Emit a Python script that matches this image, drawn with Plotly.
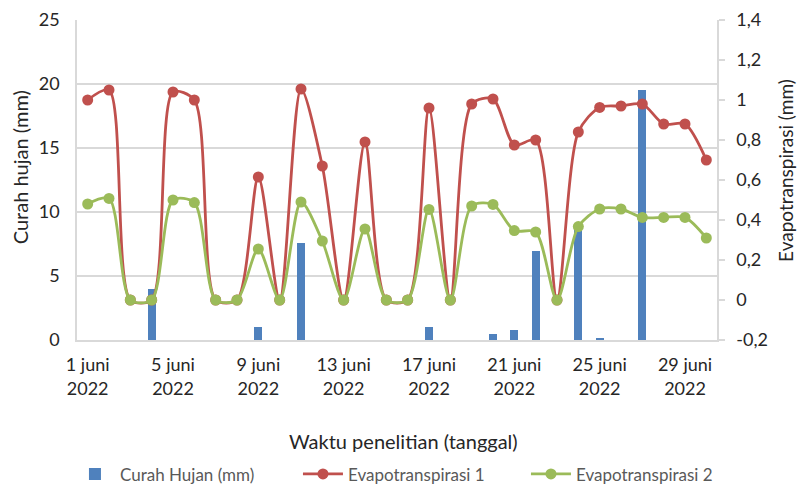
import plotly.graph_objects as go

# ── Data ───────────────────────────────────────────────────────────
days = list(range(1, 31))

curah_hujan = [0, 0, 0, 4.0, 0, 0, 0, 0, 1.05, 0,
               7.6, 0, 0, 0, 0, 0, 1.0, 0, 0, 0.45,
               0.75, 6.95, 0, 8.6, 0.08, 0, 19.5, 0, 0, 0]

evapo_1 = [1.0, 1.05, 0, 0, 1.04, 1.0, 0, 0, 0.615, 0,
           1.055, 0.67, 0, 0.79, 0, 0, 0.96, 0, 0.98, 1.005,
           0.775, 0.80, 0, 0.84, 0.963, 0.97, 0.98, 0.88, 0.88, 0.70]

evapo_2 = [0.48, 0.508, 0, 0, 0.50, 0.487, 0, 0, 0.255, 0,
           0.49, 0.295, 0, 0.355, 0, 0, 0.453, 0, 0.47, 0.478,
           0.347, 0.34, 0, 0.367, 0.455, 0.455, 0.413, 0.413, 0.413, 0.31]

x_tickvals = [1, 5, 9, 13, 17, 21, 25, 29]
x_ticktext = ["1 juni<br>2022", "5 juni<br>2022", "9 juni<br>2022", "13 juni<br>2022",
              "17 juni<br>2022", "21 juni<br>2022", "25 juni<br>2022", "29 juni<br>2022"]

y2_tickvals = [-0.2, 0, 0.2, 0.4, 0.6, 0.8, 1.0, 1.2, 1.4]
y2_ticktext = ["-0,2", "0", "0,2", "0,4", "0,6", "0,8", "1", "1,2", "1,4"]

# ── Style ──────────────────────────────────────────────────────────
BLUE = "#4F81BD"
RED = "#C0504D"
GREEN = "#9BBB59"
GRID = "#D9D9D9"
FONT = "Lato"
TXT = "#262626"

fig = go.Figure()
fig.add_trace(go.Bar(
    x=days, y=curah_hujan, name="Curah Hujan (mm)",
    marker=dict(color=BLUE, line=dict(width=0)), width=0.39, yaxis="y",
))
fig.add_trace(go.Scatter(
    x=days, y=evapo_1, name="Evapotranspirasi 1", yaxis="y2",
    mode="lines+markers", line=dict(color=RED, width=2.8, shape="spline", smoothing=0.8),
    marker=dict(color=RED, size=11),
))
fig.add_trace(go.Scatter(
    x=days, y=evapo_2, name="Evapotranspirasi 2", yaxis="y2",
    mode="lines+markers", line=dict(color=GREEN, width=2.8, shape="spline", smoothing=0.8),
    marker=dict(color=GREEN, size=11),
))

fig.update_layout(
    width=797, height=488,
    margin=dict(l=77, r=80, t=20, b=148, autoexpand=False),
    paper_bgcolor="white", plot_bgcolor="white",
    font=dict(family=FONT, size=18, color=TXT),
    bargap=0,
    xaxis=dict(
        range=[0.5, 30.5], tickvals=x_tickvals, ticktext=x_ticktext,
        showgrid=False, showline=True, linecolor=GRID, linewidth=1.5,
        ticks="", zeroline=False, ticklabelstandoff=8,
    ),
    yaxis=dict(
        range=[0, 25], dtick=5, showgrid=True, gridcolor=GRID, gridwidth=1.5,
        showline=True, linecolor=GRID, linewidth=1.5, zeroline=False, ticks="",
        ticklabelstandoff=12,
    ),
    yaxis2=dict(
        range=[-0.2, 1.4], tickvals=y2_tickvals, ticktext=y2_ticktext,
        overlaying="y", side="right", showgrid=False, zeroline=False,
        showline=True, linecolor=GRID, linewidth=1.5,
        ticks="outside", ticklen=6, tickcolor=GRID, tickwidth=1.5,
        ticklabelstandoff=8,
    ),
    showlegend=True,
    legend=dict(
        orientation="h", x=-0.011, xanchor="left", y=-0.42, yanchor="middle",
        font=dict(size=17, color="#595959"), itemwidth=40,
        entrywidth=173, entrywidthmode="pixels",
        traceorder="normal",
    ),
    annotations=[
        dict(text="Waktu penelitian (tanggal)", xref="paper", yref="paper",
             x=0.51, y=-0.315, xanchor="center", yanchor="middle",
             showarrow=False, font=dict(size=20, color=TXT)),
        dict(text="Curah hujan (mm)", xref="paper", yref="paper",
             x=-0.089, y=0.54, xanchor="center", yanchor="middle", textangle=-90,
             showarrow=False, font=dict(size=20, color=TXT)),
        dict(text="Evapotranspirasi (mm)", xref="paper", yref="paper",
             x=1.107, y=0.53, xanchor="center", yanchor="middle", textangle=-90,
             showarrow=False, font=dict(size=19, color=TXT)),
    ],
)

# page body has an 8px default margin; drop it so the chart sits at 0,0
fig.write_html("out.html", config={"displayModeBar": False},
               post_script="document.body.style.margin = '0';")
